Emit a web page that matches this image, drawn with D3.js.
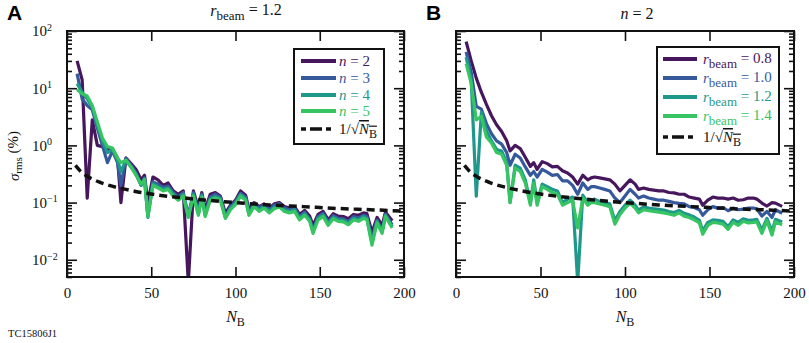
<!DOCTYPE html>
<html>
<head>
<meta charset="utf-8">
<script src="https://cdn.jsdelivr.net/npm/d3@7"></script>
<style>
body { margin: 0; background: #fff; }
</style>
</head>
<body>
<div id="chart-area"></div>
<script>
// number of bunches on the x axis
var NB = [6, 9, 12, 15, 18, 21, 24, 27, 30,
  32, 35, 38, 41, 44,
  46, 48,
  51, 54, 57, 60, 63, 66, 69, 72, 75, 78,
  80, 82,
  85, 88, 91, 94, 97, 100, 103, 106,
  108,
  111, 114, 117, 120, 123, 126, 129, 132, 135, 138, 141, 144,
  146,
  149, 152, 155, 158, 161, 164, 167, 170, 173, 176,
  178,
  181, 184, 187,
  189,
  193];

// panel A, r_beam = 1.2
var nLabels = ["2", "3", "4", "5"];
var sigmaN2 = [30, 14, 0.12, 2.8, 1.0, 0.95, 0.85, 0.85, 0.6,
  0.1, 0.6, 0.48, 0.38, 0.25,
  0.3, 0.1,
  0.28, 0.25, 0.2, 0.22, 0.16, 0.14, 0.16, 0.004, 0.16, 0.08,
  0.15, 0.075,
  0.14, 0.15, 0.13, 0.065, 0.09, 0.11, 0.16, 0.135,
  0.075,
  0.1, 0.085, 0.095, 0.08, 0.095, 0.1, 0.085, 0.08, 0.085, 0.062, 0.073, 0.058,
  0.04,
  0.062, 0.07, 0.05, 0.064, 0.058, 0.057, 0.052, 0.062, 0.06, 0.066,
  0.064,
  0.03, 0.055, 0.04,
  0.068,
  0.048];
var sigmaN3 = [18, 6.5, 5.0, 4.2, 2.0, 1.0, 0.5, 0.8, 0.5,
  0.2, 0.6, 0.45, 0.33, 0.2,
  0.27, 0.06,
  0.23, 0.21, 0.185, 0.195, 0.15, 0.125, 0.15, 0.06, 0.15, 0.066,
  0.14, 0.063,
  0.125, 0.14, 0.125, 0.056, 0.085, 0.105, 0.145, 0.125,
  0.067,
  0.097, 0.08, 0.092, 0.075, 0.09, 0.096, 0.08, 0.075, 0.08, 0.057, 0.068, 0.052,
  0.033,
  0.057, 0.065, 0.046, 0.059, 0.053, 0.052, 0.047, 0.057, 0.054, 0.06,
  0.057,
  0.024, 0.049, 0.032,
  0.063,
  0.041];
var sigmaN4 = [12, 8.5, 6.5, 4.6, 2.3, 1.2, 0.75, 0.85, 0.55,
  0.35, 0.55, 0.42, 0.31, 0.2,
  0.26, 0.055,
  0.215, 0.19, 0.17, 0.18, 0.14, 0.117, 0.14, 0.057, 0.14, 0.063,
  0.133, 0.06,
  0.117, 0.128, 0.117, 0.055, 0.08, 0.098, 0.138, 0.117,
  0.063,
  0.09, 0.075, 0.085, 0.07, 0.083, 0.09, 0.075, 0.07, 0.075, 0.053, 0.064, 0.05,
  0.031,
  0.053, 0.061, 0.043, 0.055, 0.05, 0.049, 0.044, 0.053, 0.05, 0.057,
  0.053,
  0.02, 0.047, 0.031,
  0.06,
  0.038];
var sigmaN5 = [9.5, 8.0, 7.3, 5.0, 2.6, 1.35, 0.95, 0.9, 0.6,
  0.5, 0.55, 0.42, 0.3, 0.21,
  0.25, 0.058,
  0.2, 0.18, 0.16, 0.17, 0.13, 0.11, 0.13, 0.055, 0.13, 0.06,
  0.125, 0.057,
  0.11, 0.12, 0.11, 0.053, 0.075, 0.092, 0.13, 0.11,
  0.06,
  0.085, 0.07, 0.08, 0.066, 0.078, 0.084, 0.07, 0.066, 0.07, 0.05, 0.06, 0.047,
  0.029,
  0.05, 0.057, 0.04, 0.052, 0.047, 0.046, 0.041, 0.05, 0.047, 0.053,
  0.05,
  0.018, 0.044, 0.029,
  0.057,
  0.036];

// panel B, n = 2
var rbeamLabels = ["0.8", "1.0", "1.2", "1.4"];
var sigmaR08 = [65, 30, 15, 8.5, 5.2, 3.3, 2.3, 1.75, 1.2,
  0.8, 1.0, 0.88, 0.62, 0.43,
  0.5, 0.38,
  0.52, 0.48, 0.42, 0.43, 0.36, 0.33, 0.28, 0.21, 0.3, 0.25,
  0.27, 0.28,
  0.27, 0.26, 0.25, 0.21, 0.16, 0.2, 0.25, 0.21,
  0.17,
  0.18, 0.17, 0.165, 0.16, 0.16, 0.15, 0.148, 0.14, 0.14, 0.125, 0.12, 0.115,
  0.09,
  0.11, 0.125, 0.12, 0.12, 0.115, 0.12, 0.11, 0.112, 0.12, 0.12,
  0.115,
  0.098, 0.087, 0.1,
  0.098,
  0.086];
var sigmaR10 = [43, 19, 4.8, 4.3, 2.4, 1.6, 1.2, 1.05, 0.75,
  0.45, 0.7, 0.6, 0.42, 0.3,
  0.35, 0.28,
  0.38, 0.34, 0.3, 0.31, 0.24, 0.24, 0.2, 0.14, 0.22, 0.17,
  0.19, 0.19,
  0.18, 0.17, 0.16, 0.12, 0.1, 0.13, 0.17, 0.14,
  0.12,
  0.13, 0.12, 0.115, 0.11, 0.11, 0.105, 0.1, 0.097, 0.095, 0.085, 0.082, 0.075,
  0.06,
  0.075, 0.085, 0.08, 0.082, 0.072, 0.08, 0.075, 0.077, 0.08, 0.08,
  0.078,
  0.058, 0.07, 0.055,
  0.075,
  0.065];
var sigmaR12 = [35, 14, 0.13, 3.8, 1.8, 1.2, 0.85, 0.8, 0.5,
  0.1, 0.45, 0.4, 0.25, 0.1,
  0.25, 0.1,
  0.21, 0.19, 0.17, 0.16, 0.1, 0.115, 0.125, 0.004, 0.135, 0.1,
  0.11, 0.115,
  0.105, 0.1, 0.095, 0.048, 0.07, 0.09, 0.11, 0.09,
  0.074,
  0.084, 0.08, 0.078, 0.076, 0.074, 0.07, 0.067, 0.073, 0.065, 0.061, 0.056, 0.049,
  0.032,
  0.045, 0.05, 0.049, 0.047, 0.038, 0.05, 0.045, 0.052, 0.049, 0.05,
  0.051,
  0.033, 0.053, 0.031,
  0.051,
  0.046];
var sigmaR14 = [27, 12, 2.8, 3.2, 1.4, 1.1, 0.75, 0.7, 0.45,
  0.1, 0.4, 0.35, 0.22, 0.09,
  0.22, 0.09,
  0.19, 0.17, 0.15, 0.14, 0.09, 0.1, 0.11, 0.036, 0.12, 0.09,
  0.1, 0.1,
  0.095, 0.09, 0.085, 0.042, 0.062, 0.08, 0.098, 0.08,
  0.066,
  0.075, 0.072, 0.07, 0.068, 0.066, 0.063, 0.06, 0.066, 0.058, 0.055, 0.05, 0.044,
  0.028,
  0.04, 0.045, 0.044, 0.042, 0.034, 0.045, 0.04, 0.047, 0.044, 0.045,
  0.046,
  0.029, 0.048, 0.027,
  0.046,
  0.041];

// 1/sqrt(N_B) reference curve
var refNB = [5, 8, 12, 16, 20, 25, 30, 40, 50, 60, 70, 80, 100, 120, 140, 160, 180, 200];
var refSigma = [0.447, 0.354, 0.289, 0.25, 0.224, 0.2, 0.183, 0.158, 0.141, 0.129,
  0.12, 0.112, 0.1, 0.091, 0.085, 0.079, 0.075, 0.071];

var xTicks = [0, 50, 100, 150, 200];
var yMajor = [0.01, 0.1, 1, 10, 100];
var yExponents = ["\u22122", "\u22121", "0", "1", "2"];

var colors = ["#46175c", "#36599c", "#1f978b", "#37c463"];

var serif = "'Liberation Serif', 'Times New Roman', 'DejaVu Serif', serif";

var width = 809;
var height = 343;
var plotTop = 31, plotBottom = 277;

var svg = d3.select("#chart-area")
  .append("svg")
  .attr("width", width)
  .attr("height", height)
  .attr("font-family", serif);

function drawPanel(cfg) {
  var xScale = d3.scaleLinear().domain([0, 200]).range([cfg.left, cfg.right]);
  var yScale = d3.scaleLog().domain([0.005, 100]).range([plotBottom, plotTop]);

  var g = svg.append("g").attr("font-family", serif);

  g.append("clipPath")
    .attr("id", "clip-" + cfg.id)
    .append("rect")
    .attr("x", cfg.left)
    .attr("y", plotTop)
    .attr("width", cfg.right - cfg.left)
    .attr("height", plotBottom - plotTop);

  var plot = g.append("g").attr("clip-path", "url(#clip-" + cfg.id + ")");

  var line = d3.line()
    .x((d) => xScale(d[0]))
    .y((d) => yScale(d[1]));

  cfg.series.forEach((s, i) => {
    plot.append("path")
      .datum(d3.zip(NB, s))
      .attr("d", line)
      .attr("fill", "none")
      .attr("stroke", colors[i])
      .attr("stroke-width", 3.2)
      .attr("stroke-linejoin", "round");
  });

  plot.append("path")
    .datum(d3.zip(refNB, refSigma))
    .attr("d", line.curve(d3.curveMonotoneX))
    .attr("fill", "none")
    .attr("stroke", "#111")
    .attr("stroke-width", 3.5)
    .attr("stroke-dasharray", "8,5");

  // ticks
  var minor = yScale.ticks().filter((v) => {
    var l = Math.log10(v);
    return Math.abs(l - Math.round(l)) > 1e-6;
  });

  function styleAxis(sel) {
    sel.select(".domain").remove();
    sel.selectAll(".tick line").attr("stroke", "#111").attr("stroke-width", 1.6);
    sel.attr("font-family", serif).attr("font-size", 15);
  }

  var xAxisGroup = g.append("g")
    .attr("transform", "translate(0," + plotBottom + ")")
    .call(d3.axisBottom(xScale).tickValues(xTicks).tickSizeInner(-10).tickSizeOuter(0).tickPadding(10))
    .call(styleAxis);
  xAxisGroup.selectAll(".tick text").attr("fill", "#111");

  g.append("g")
    .attr("transform", "translate(0," + plotTop + ")")
    .call(d3.axisTop(xScale).tickValues(xTicks).tickSizeInner(-10).tickSizeOuter(0).tickFormat(""))
    .call(styleAxis);

  var yAxisGroup = g.append("g")
    .attr("transform", "translate(" + cfg.left + ",0)")
    .call(d3.axisLeft(yScale).tickValues(yMajor).tickSizeInner(-10).tickSizeOuter(0))
    .call(styleAxis);

  if (cfg.yLabels) {
    yAxisGroup.selectAll(".tick text").each(function (d, i) {
      var t = d3.select(this);
      t.text(null)
        .attr("text-anchor", "start")
        .attr("x", 32 - cfg.left)
        .attr("fill", "#111");
      t.append("tspan").text("10");
      t.append("tspan").attr("dy", "-0.55em").attr("font-size", 10).text(yExponents[i]);
    });
  } else {
    yAxisGroup.selectAll(".tick text").remove();
  }

  g.append("g")
    .attr("transform", "translate(" + cfg.left + ",0)")
    .call(d3.axisLeft(yScale).tickValues(minor).tickSizeInner(-5).tickSizeOuter(0).tickFormat(""))
    .call(styleAxis);

  g.append("g")
    .attr("transform", "translate(" + cfg.right + ",0)")
    .call(d3.axisRight(yScale).tickValues(yMajor).tickSizeInner(-10).tickSizeOuter(0).tickFormat(""))
    .call(styleAxis);

  g.append("g")
    .attr("transform", "translate(" + cfg.right + ",0)")
    .call(d3.axisRight(yScale).tickValues(minor).tickSizeInner(-5).tickSizeOuter(0).tickFormat(""))
    .call(styleAxis);

  // frame
  g.append("rect")
    .attr("x", cfg.left)
    .attr("y", plotTop)
    .attr("width", cfg.right - cfg.left)
    .attr("height", plotBottom - plotTop)
    .attr("fill", "none")
    .attr("stroke", "#111")
    .attr("stroke-width", 2);

  // x label
  var xl = g.append("text")
    .attr("x", (cfg.left + cfg.right) / 2)
    .attr("y", 322)
    .attr("text-anchor", "middle")
    .attr("font-size", 16)
    .attr("fill", "#111");
  xl.append("tspan").attr("font-style", "italic").text("N");
  xl.append("tspan").attr("font-size", 12).attr("dy", "0.3em").text("B");

  // title
  var tt = g.append("text")
    .attr("x", cfg.titleX)
    .attr("y", cfg.titleY)
    .attr("text-anchor", "middle")
    .attr("font-size", 16)
    .attr("fill", "#111");
  cfg.title(tt);

  // panel letter
  g.append("text")
    .attr("x", cfg.letterX)
    .attr("y", 20)
    .attr("font-family", "'Liberation Sans', Arial, sans-serif")
    .attr("font-weight", "bold")
    .attr("font-size", 21)
    .text(cfg.letter);

  // legend
  var lg = g.append("g");
  lg.append("rect")
    .attr("x", cfg.legend.x)
    .attr("y", cfg.legend.y)
    .attr("width", cfg.legend.w)
    .attr("height", cfg.legend.h)
    .attr("fill", "#fff")
    .attr("stroke", "#111")
    .attr("stroke-width", 2);

  cfg.legend.rows.forEach((ry, i) => {
    var dashed = i === cfg.series.length;
    lg.append("line")
      .attr("x1", cfg.legend.x + cfg.legend.lineX0)
      .attr("x2", cfg.legend.x + cfg.legend.lineX1)
      .attr("y1", ry)
      .attr("y2", ry)
      .attr("stroke", dashed ? "#111" : colors[i])
      .attr("stroke-width", dashed ? 3.5 : 3.8)
      .attr("stroke-dasharray", dashed ? "5,4,12,4,5" : null);
    var txt = lg.append("text")
      .attr("x", cfg.legend.x + cfg.legend.textX)
      .attr("y", ry + 5)
      .attr("font-size", 15)
      .attr("fill", dashed ? "#111" : colors[i]);
    if (dashed) {
      txt.append("tspan").text("1/\u221A");
      txt.append("tspan").attr("font-style", "italic").style("text-decoration", "overline").text("N");
      txt.append("tspan").attr("font-size", 12).attr("dy", "0.3em").style("text-decoration", "overline").text("B");
    } else {
      cfg.legendText(txt, i);
    }
  });
}

drawPanel({
  id: "a",
  left: 67,
  right: 404,
  yLabels: true,
  series: [sigmaN2, sigmaN3, sigmaN4, sigmaN5],
  titleX: 246,
  titleY: 16,
  title: function (t) {
    t.append("tspan").attr("font-style", "italic").text("r");
    t.append("tspan").attr("font-size", 13).attr("dy", "0.3em").text("beam");
    t.append("tspan").attr("dy", "-0.3em").text(" = 1.2");
  },
  letter: "A",
  letterX: 7,
  legend: {x: 294, y: 49, w: 90, h: 95, rows: [61, 78, 95, 111, 129], lineX0: 7, lineX1: 42, textX: 45},
  legendText: function (t, i) {
    t.append("tspan").attr("font-style", "italic").text("n");
    t.append("tspan").text(" = " + nLabels[i]);
  }
});

drawPanel({
  id: "b",
  left: 456,
  right: 794,
  yLabels: false,
  series: [sigmaR08, sigmaR10, sigmaR12, sigmaR14],
  titleX: 637,
  titleY: 19,
  title: function (t) {
    t.append("tspan").attr("font-style", "italic").text("n");
    t.append("tspan").text(" = 2");
  },
  letter: "B",
  letterX: 426,
  legend: {x: 657, y: 47, w: 122, h: 107, rows: [59, 78, 97, 116, 137], lineX0: 6, lineX1: 40, textX: 46},
  legendText: function (t, i) {
    t.append("tspan").attr("font-style", "italic").text("r");
    t.append("tspan").attr("font-size", 13).attr("dy", "0.3em").text("beam");
    t.append("tspan").attr("dy", "-0.3em").text(" = " + rbeamLabels[i]);
  }
});

// y axis label
var yl = svg.append("text")
  .attr("transform", "translate(19,156) rotate(-90)")
  .attr("text-anchor", "middle")
  .attr("font-size", 15)
  .attr("fill", "#111");
yl.append("tspan").attr("font-style", "italic").text("\u03C3");
yl.append("tspan").attr("font-size", 11).attr("dy", "0.3em").text("rms");
yl.append("tspan").attr("dy", "-0.3em").text(" (%)");

svg.append("text")
  .attr("x", 8)
  .attr("y", 337)
  .attr("font-size", 10.5)
  .attr("fill", "#111")
  .text("TC15806J1");
</script>
</body>
</html>
